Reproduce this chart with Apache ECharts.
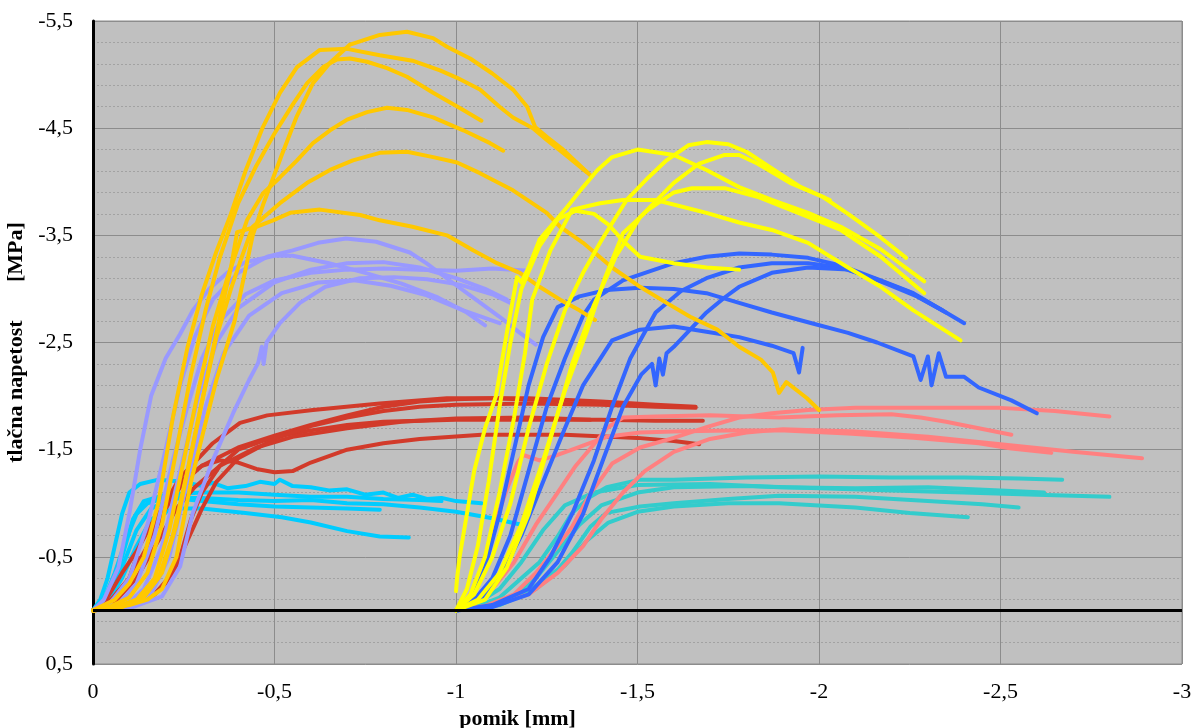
<!DOCTYPE html>
<html><head><meta charset="utf-8">
<script src="https://cdn.jsdelivr.net/npm/echarts@6/dist/echarts.min.js"></script>
<style>html,body{margin:0;padding:0;background:#fff}#c{width:1194px;height:728px}</style>
</head><body><div id="c"></div>
<script>
// axis settings (values)
const xMin = -3, xMax = 0, xStep = 0.5;
const yMin = -5.5, yMax = 0.5, yStep = 1;
const xTitle = 'pomik [mm]';
const yTitle = 'tlačna napetost       [MPa]';

// series groups: each curve is a list of [pomik, napetost]
const cyanCurves = [
  [[0,0],[-0.02,-0.1],[-0.04,-0.3],[-0.06,-0.6],[-0.08,-0.9],[-0.1,-1.1],[-0.13,-1.18],[-0.18,-1.22],[-0.25,-1.2],[-0.3,-1.16],[-0.33,-1.19],[-0.37,-1.14],[-0.42,-1.16],[-0.46,-1.2],[-0.5,-1.18],[-0.515,-1.22],[-0.55,-1.16],[-0.6,-1.15],[-0.65,-1.12],[-0.7,-1.13],[-0.75,-1.08],[-0.8,-1.1],[-0.84,-1.05],[-0.88,-1.08],[-0.92,-1.04],[-0.96,-1.05],[-1.0,-1.02],[-1.07,-1.0]],
  [[0,0],[-0.03,-0.1],[-0.06,-0.35],[-0.09,-0.65],[-0.12,-0.9],[-0.15,-1.0],[-0.2,-1.05],[-0.3,-1.05],[-0.4,-1.03],[-0.5,-1.02],[-0.6,-1.03],[-0.7,-1.0],[-0.8,-0.99],[-0.9,-0.96],[-1.0,-0.92],[-1.1,-0.86],[-1.18,-0.8]],
  [[0,0],[-0.04,-0.1],[-0.08,-0.4],[-0.12,-0.75],[-0.16,-0.95],[-0.22,-1.05],[-0.3,-1.02],[-0.4,-0.99],[-0.5,-0.97],[-0.6,-0.96],[-0.7,-0.95],[-0.79,-0.94]],
  [[0,0],[-0.04,-0.08],[-0.08,-0.3],[-0.12,-0.6],[-0.16,-0.85],[-0.22,-0.95],[-0.3,-0.95],[-0.42,-0.91],[-0.52,-0.87],[-0.6,-0.82],[-0.7,-0.74],[-0.79,-0.69],[-0.87,-0.68]],
  [[0,0],[-0.02,-0.05],[-0.05,-0.2],[-0.08,-0.5],[-0.11,-0.85],[-0.14,-1.02],[-0.2,-1.08],[-0.3,-1.1],[-0.4,-1.1],[-0.5,-1.08],[-0.6,-1.06],[-0.7,-1.06],[-0.8,-1.04],[-0.9,-1.03],[-0.96,-1.02]]
];
const redCurves = [
  [[0,0],[-0.04,-0.12],[-0.08,-0.35],[-0.12,-0.55],[-0.16,-0.8],[-0.2,-1.0],[-0.24,-1.2],[-0.3,-1.35],[-0.4,-1.52],[-0.5,-1.63],[-0.6,-1.73],[-0.7,-1.82],[-0.8,-1.9],[-0.9,-1.95],[-1.0,-1.97],[-1.1,-1.98],[-1.2,-1.98],[-1.4,-1.95],[-1.55,-1.92],[-1.66,-1.9]],
  [[0,0],[-0.05,-0.1],[-0.1,-0.3],[-0.12,-0.5],[-0.135,-0.47],[-0.15,-0.6],[-0.19,-0.95],[-0.24,-1.24],[-0.33,-1.56],[-0.405,-1.75],[-0.48,-1.82],[-0.606,-1.87],[-0.79,-1.93],[-0.975,-1.98],[-1.1,-1.98],[-1.25,-1.96],[-1.37,-1.95]],
  [[0,0],[-0.05,-0.1],[-0.1,-0.3],[-0.15,-0.6],[-0.2,-0.95],[-0.25,-1.2],[-0.3,-1.35],[-0.35,-1.4],[-0.4,-1.38],[-0.45,-1.32],[-0.5,-1.29],[-0.55,-1.3],[-0.6,-1.38],[-0.7,-1.5],[-0.8,-1.56],[-0.9,-1.6],[-1.07,-1.64],[-1.3,-1.64],[-1.5,-1.61],[-1.6,-1.58],[-1.67,-1.55]],
  [[0,0],[-0.08,-0.03],[-0.15,-0.1],[-0.2,-0.25],[-0.24,-0.5],[-0.27,-0.85],[-0.3,-1.1],[-0.35,-1.35],[-0.4,-1.5],[-0.5,-1.62],[-0.6,-1.68],[-0.7,-1.73],[-0.8,-1.76],[-1.0,-1.78],[-1.2,-1.78],[-1.4,-1.78],[-1.55,-1.77],[-1.68,-1.77]],
  [[0,0],[-0.1,-0.04],[-0.17,-0.15],[-0.22,-0.35],[-0.26,-0.65],[-0.3,-0.95],[-0.34,-1.2],[-0.4,-1.42],[-0.5,-1.6],[-0.6,-1.72],[-0.7,-1.8],[-0.8,-1.86],[-0.9,-1.9],[-1.0,-1.92],[-1.2,-1.93],[-1.4,-1.92],[-1.55,-1.9],[-1.66,-1.89]],
  [[0,0],[-0.06,-0.08],[-0.12,-0.3],[-0.18,-0.65],[-0.23,-0.95],[-0.28,-1.15],[-0.35,-1.35],[-0.45,-1.52],[-0.55,-1.62],[-0.7,-1.7],[-0.85,-1.76],[-1.0,-1.79],[-1.2,-1.8],[-1.37,-1.78]]
];
const lavenderCurves = [
  [[0,0],[-0.03,-0.1],[-0.07,-0.4],[-0.1,-0.9],[-0.13,-1.5],[-0.16,-2.0],[-0.2,-2.35],[-0.24,-2.58],[-0.275,-2.8],[-0.32,-3.0],[-0.37,-3.15],[-0.42,-3.25],[-0.5,-3.31],[-0.55,-3.31],[-0.65,-3.24],[-0.75,-3.15],[-0.85,-3.05],[-0.95,-2.92],[-1.03,-2.78],[-1.08,-2.66]],
  [[0,0],[-0.05,-0.08],[-0.1,-0.3],[-0.15,-0.8],[-0.2,-1.5],[-0.24,-2.1],[-0.28,-2.55],[-0.33,-2.9],[-0.4,-3.15],[-0.48,-3.3],[-0.55,-3.36],[-0.62,-3.43],[-0.697,-3.47],[-0.78,-3.44],[-0.873,-3.34],[-0.918,-3.24],[-0.99,-3.06],[-1.055,-2.9],[-1.12,-2.74],[-1.176,-2.59],[-1.22,-2.48]],
  [[0,0],[-0.07,-0.06],[-0.12,-0.25],[-0.17,-0.7],[-0.22,-1.4],[-0.26,-1.9],[-0.3,-2.35],[-0.35,-2.7],[-0.42,-2.95],[-0.5,-3.08],[-0.6,-3.15],[-0.7,-3.18],[-0.8,-3.19],[-0.9,-3.18],[-1.0,-3.17],[-1.1,-3.19],[-1.2,-3.17]],
  [[0,0],[-0.09,-0.05],[-0.14,-0.2],[-0.19,-0.6],[-0.24,-1.3],[-0.29,-2.0],[-0.34,-2.5],[-0.4,-2.82],[-0.5,-3.06],[-0.6,-3.18],[-0.7,-3.24],[-0.8,-3.25],[-0.9,-3.2],[-1.0,-3.1],[-1.08,-3.0],[-1.14,-2.9]],
  [[0,0],[-0.1,-0.04],[-0.16,-0.15],[-0.21,-0.5],[-0.26,-1.2],[-0.31,-1.9],[-0.36,-2.4],[-0.43,-2.75],[-0.52,-2.96],[-0.62,-3.06],[-0.72,-3.08],[-0.82,-3.03],[-0.92,-2.94],[-1.02,-2.8],[-1.12,-2.68]],
  [[0,0],[-0.1,-0.02],[-0.19,-0.13],[-0.24,-0.41],[-0.275,-0.91],[-0.33,-1.4],[-0.386,-1.84],[-0.43,-2.15],[-0.455,-2.31],[-0.465,-2.46],[-0.47,-2.3],[-0.478,-2.5],[-0.515,-2.68],[-0.57,-2.87],[-0.64,-3.02],[-0.735,-3.1],[-0.83,-3.11],[-0.92,-3.09],[-1.01,-3.04],[-1.1,-2.95],[-1.15,-2.87]]
];
const tealCurves = [
  [[-1,0],[-1.06,-0.04],[-1.12,-0.12],[-1.18,-0.3],[-1.23,-0.45],[-1.28,-0.69],[-1.32,-0.91],[-1.37,-1.06],[-1.415,-1.15],[-1.507,-1.22],[-1.6,-1.22],[-1.8,-1.24],[-2.0,-1.25],[-2.2,-1.24],[-2.4,-1.24],[-2.55,-1.23],[-2.67,-1.22]],
  [[-1,0],[-1.08,-0.04],[-1.16,-0.14],[-1.22,-0.3],[-1.28,-0.55],[-1.34,-0.8],[-1.4,-0.98],[-1.5,-1.1],[-1.6,-1.15],[-1.8,-1.16],[-2.0,-1.14],[-2.2,-1.12],[-2.4,-1.1],[-2.6,-1.08],[-2.8,-1.06]],
  [[-1,0],[-1.1,-0.05],[-1.2,-0.18],[-1.28,-0.38],[-1.32,-0.54],[-1.37,-0.78],[-1.415,-0.91],[-1.507,-0.97],[-1.6,-1.0],[-1.75,-1.04],[-1.89,-1.07],[-2.1,-1.06],[-2.3,-1.02],[-2.45,-0.99],[-2.55,-0.96]],
  [[-1,0],[-1.12,-0.05],[-1.22,-0.2],[-1.3,-0.42],[-1.36,-0.65],[-1.42,-0.82],[-1.5,-0.92],[-1.6,-0.97],[-1.75,-1.0],[-1.89,-1.0],[-2.0,-0.98],[-2.1,-0.96],[-2.25,-0.91],[-2.41,-0.87]],
  [[-1,0],[-1.05,-0.05],[-1.12,-0.2],[-1.18,-0.45],[-1.24,-0.75],[-1.3,-0.98],[-1.38,-1.1],[-1.5,-1.17],[-1.7,-1.18],[-1.89,-1.15],[-2.1,-1.14],[-2.3,-1.15],[-2.5,-1.12],[-2.62,-1.1]]
];
const pinkCurves = [
  [[-1,0],[-1.08,-0.04],[-1.16,-0.15],[-1.22,-0.35],[-1.28,-0.6],[-1.32,-0.78],[-1.37,-1.09],[-1.43,-1.37],[-1.507,-1.52],[-1.6,-1.61],[-1.69,-1.71],[-1.78,-1.8],[-1.87,-1.84],[-1.97,-1.87],[-2.1,-1.89],[-2.3,-1.89],[-2.5,-1.89],[-2.65,-1.86],[-2.8,-1.81]],
  [[-1,0],[-1.05,-0.06],[-1.1,-0.2],[-1.16,-0.45],[-1.22,-0.8],[-1.28,-1.1],[-1.33,-1.35],[-1.39,-1.59],[-1.415,-1.7],[-1.46,-1.8],[-1.55,-1.81],[-1.7,-1.82],[-1.89,-1.8],[-2.05,-1.82],[-2.2,-1.83],[-2.28,-1.8],[-2.35,-1.76],[-2.44,-1.7],[-2.53,-1.64]],
  [[-1,0],[-1.02,-0.05],[-1.05,-0.2],[-1.08,-0.5],[-1.11,-0.84],[-1.14,-1.13],[-1.17,-1.38],[-1.185,-1.45],[-1.23,-1.4],[-1.27,-1.44],[-1.32,-1.5],[-1.415,-1.62],[-1.507,-1.66],[-1.6,-1.67],[-1.75,-1.68],[-1.89,-1.68],[-2.08,-1.65],[-2.26,-1.61],[-2.44,-1.56],[-2.53,-1.51],[-2.64,-1.47]],
  [[-1,0],[-1.1,-0.05],[-1.2,-0.15],[-1.28,-0.35],[-1.35,-0.6],[-1.4,-0.85],[-1.46,-1.1],[-1.52,-1.3],[-1.6,-1.48],[-1.7,-1.6],[-1.8,-1.66],[-1.9,-1.69],[-2.1,-1.67],[-2.3,-1.62],[-2.5,-1.55],[-2.7,-1.48],[-2.89,-1.42]]
];
const blueCurves = [
  [[-1,0],[-1.05,-0.1],[-1.1,-0.3],[-1.15,-0.7],[-1.2,-1.3],[-1.25,-1.9],[-1.3,-2.35],[-1.35,-2.75],[-1.38,-2.9],[-1.46,-3.08],[-1.6,-3.24],[-1.69,-3.3],[-1.78,-3.33],[-1.87,-3.32],[-1.97,-3.29],[-2.06,-3.22],[-2.17,-3.08],[-2.26,-2.96],[-2.35,-2.78],[-2.4,-2.68]],
  [[-1,0],[-1.1,-0.05],[-1.2,-0.2],[-1.26,-0.5],[-1.32,-0.9],[-1.38,-1.4],[-1.43,-1.9],[-1.48,-2.35],[-1.55,-2.78],[-1.62,-2.98],[-1.69,-3.1],[-1.78,-3.2],[-1.87,-3.24],[-1.97,-3.24],[-2.06,-3.2],[-2.15,-3.1],[-2.25,-2.97],[-2.34,-2.8]],
  [[-1,0],[-1.1,-0.03],[-1.2,-0.15],[-1.28,-0.45],[-1.35,-0.9],[-1.41,-1.45],[-1.46,-1.9],[-1.51,-2.2],[-1.54,-2.3],[-1.55,-2.1],[-1.56,-2.35],[-1.57,-2.2],[-1.58,-2.4],[-1.6,-2.46],[-1.69,-2.78],[-1.74,-2.92],[-1.78,-3.02],[-1.87,-3.15],[-1.97,-3.2],[-2.08,-3.18],[-2.17,-3.07],[-2.27,-2.93],[-2.35,-2.78]],
  [[-1,0],[-1.04,-0.1],[-1.08,-0.4],[-1.12,-0.9],[-1.16,-1.5],[-1.2,-2.1],[-1.24,-2.55],[-1.28,-2.83],[-1.34,-2.93],[-1.415,-2.99],[-1.507,-3.01],[-1.6,-3.0],[-1.69,-2.96],[-1.78,-2.87],[-1.87,-2.78],[-1.98,-2.68],[-2.08,-2.59],[-2.16,-2.5],[-2.26,-2.37],[-2.28,-2.15],[-2.3,-2.37],[-2.31,-2.1],[-2.33,-2.4],[-2.35,-2.18],[-2.4,-2.18],[-2.44,-2.08],[-2.53,-1.96],[-2.6,-1.84]],
  [[-1,0],[-1.06,-0.08],[-1.12,-0.3],[-1.18,-0.7],[-1.24,-1.2],[-1.3,-1.7],[-1.35,-2.1],[-1.43,-2.52],[-1.507,-2.62],[-1.6,-2.65],[-1.69,-2.6],[-1.78,-2.55],[-1.87,-2.47],[-1.93,-2.4],[-1.945,-2.22],[-1.955,-2.45]]
];
const orangeCurves = [
  [[0,0],[-0.05,-0.02],[-0.1,-0.05],[-0.15,-0.1],[-0.19,-0.2],[-0.23,-0.5],[-0.27,-1.2],[-0.31,-1.75],[-0.34,-2.15],[-0.39,-2.7],[-0.44,-3.5],[-0.47,-3.8],[-0.52,-4.25],[-0.56,-4.6],[-0.606,-4.92],[-0.653,-5.11],[-0.708,-5.28],[-0.79,-5.37],[-0.865,-5.4],[-0.937,-5.34],[-0.975,-5.26],[-1.039,-5.15],[-1.1,-5.01],[-1.157,-4.86],[-1.196,-4.7],[-1.218,-4.51],[-1.25,-4.42],[-1.295,-4.3],[-1.37,-4.06]],
  [[0,0],[-0.03,-0.05],[-0.06,-0.1],[-0.1,-0.25],[-0.14,-0.5],[-0.18,-1.0],[-0.22,-1.8],[-0.26,-2.45],[-0.3,-2.95],[-0.34,-3.35],[-0.38,-3.7],[-0.42,-4.1],[-0.468,-4.51],[-0.515,-4.83],[-0.562,-5.07],[-0.625,-5.23],[-0.7,-5.24],[-0.79,-5.18],[-0.88,-5.13],[-0.956,-5.04],[-1.003,-4.97],[-1.066,-4.86],[-1.12,-4.7],[-1.157,-4.6],[-1.212,-4.5],[-1.25,-4.39],[-1.295,-4.27],[-1.36,-4.09]],
  [[0,0],[-0.05,-0.04],[-0.1,-0.12],[-0.15,-0.35],[-0.19,-0.8],[-0.23,-1.5],[-0.27,-2.2],[-0.31,-2.8],[-0.35,-3.3],[-0.4,-3.8],[-0.45,-4.15],[-0.5,-4.45],[-0.55,-4.72],[-0.59,-4.92],[-0.634,-5.07],[-0.672,-5.14],[-0.708,-5.15],[-0.755,-5.12],[-0.81,-5.06],[-0.865,-4.98],[-0.937,-4.83],[-1.02,-4.67],[-1.07,-4.57]],
  [[0,0],[-0.06,-0.03],[-0.12,-0.1],[-0.17,-0.3],[-0.21,-0.75],[-0.25,-1.4],[-0.29,-2.05],[-0.33,-2.65],[-0.37,-3.1],[-0.4,-3.4],[-0.424,-3.64],[-0.468,-3.89],[-0.515,-4.04],[-0.562,-4.2],[-0.606,-4.36],[-0.653,-4.48],[-0.7,-4.58],[-0.755,-4.65],[-0.81,-4.69],[-0.865,-4.67],[-0.937,-4.6],[-1.02,-4.48],[-1.094,-4.36],[-1.13,-4.29]],
  [[0,0],[-0.07,-0.03],[-0.13,-0.1],[-0.18,-0.3],[-0.22,-0.7],[-0.26,-1.3],[-0.3,-1.95],[-0.34,-2.55],[-0.38,-3.0],[-0.41,-3.3],[-0.44,-3.58],[-0.515,-3.8],[-0.59,-3.99],[-0.653,-4.11],[-0.716,-4.2],[-0.79,-4.27],[-0.865,-4.28],[-0.937,-4.23],[-1.003,-4.18],[-1.066,-4.08],[-1.157,-3.92],[-1.25,-3.71],[-1.287,-3.58],[-1.35,-3.43],[-1.43,-3.2],[-1.507,-3.02],[-1.58,-2.87],[-1.645,-2.74],[-1.72,-2.62],[-1.78,-2.46],[-1.84,-2.34],[-1.873,-2.22],[-1.89,-2.03],[-1.91,-2.13],[-1.967,-1.98],[-2.0,-1.87]],
  [[0,0],[-0.08,-0.03],[-0.14,-0.12],[-0.19,-0.35],[-0.23,-0.8],[-0.27,-1.45],[-0.31,-2.1],[-0.35,-2.75],[-0.38,-3.2],[-0.397,-3.53],[-0.45,-3.58],[-0.496,-3.64],[-0.543,-3.71],[-0.625,-3.74],[-0.736,-3.69],[-0.79,-3.64],[-0.88,-3.58],[-0.975,-3.5],[-1.047,-3.36],[-1.113,-3.24],[-1.176,-3.15],[-1.23,-3.02],[-1.287,-2.9],[-1.34,-2.8],[-1.383,-2.71]]
];
const yellowCurves = [
  [[-1,-0.18],[-1.003,-0.3],[-1.01,-0.5],[-1.03,-0.9],[-1.05,-1.3],[-1.08,-1.7],[-1.11,-2.0],[-1.14,-2.59],[-1.168,-3.11],[-1.18,-3.06],[-1.2,-3.2],[-1.23,-3.46],[-1.305,-3.76],[-1.35,-3.95],[-1.39,-4.11],[-1.43,-4.23],[-1.5,-4.3],[-1.6,-4.25],[-1.69,-4.11],[-1.78,-3.95],[-1.87,-3.83],[-1.97,-3.71],[-2.06,-3.58],[-2.17,-3.37],[-2.29,-3.07]],
  [[-1,0],[-1.05,-0.15],[-1.1,-0.5],[-1.15,-1.0],[-1.2,-1.7],[-1.25,-2.3],[-1.3,-2.8],[-1.35,-3.15],[-1.4,-3.45],[-1.47,-3.83],[-1.53,-4.04],[-1.58,-4.2],[-1.64,-4.34],[-1.69,-4.37],[-1.75,-4.35],[-1.8,-4.28],[-1.89,-4.08],[-1.95,-3.95],[-2.03,-3.83]],
  [[-1,0],[-1.08,-0.1],[-1.14,-0.4],[-1.2,-0.9],[-1.26,-1.6],[-1.32,-2.3],[-1.38,-2.85],[-1.44,-3.3],[-1.507,-3.67],[-1.6,-3.99],[-1.67,-4.17],[-1.74,-4.25],[-1.78,-4.25],[-1.83,-4.17],[-1.92,-3.99],[-2.01,-3.86],[-2.08,-3.7],[-2.17,-3.48],[-2.24,-3.29]],
  [[-1,0],[-1.06,-0.1],[-1.12,-0.35],[-1.18,-0.8],[-1.24,-1.4],[-1.3,-2.05],[-1.36,-2.6],[-1.41,-3.1],[-1.46,-3.52],[-1.53,-3.74],[-1.6,-3.9],[-1.65,-3.94],[-1.74,-3.94],[-1.83,-3.86],[-1.92,-3.74],[-2.06,-3.55],[-2.17,-3.3],[-2.29,-2.96]],
  [[-1,0],[-1.04,-0.15],[-1.08,-0.5],[-1.12,-1.1],[-1.16,-1.8],[-1.19,-2.4],[-1.21,-2.9],[-1.26,-3.36],[-1.32,-3.74],[-1.397,-3.8],[-1.46,-3.83],[-1.55,-3.83],[-1.69,-3.71],[-1.78,-3.62],[-1.87,-3.55],[-1.97,-3.43],[-2.08,-3.2],[-2.17,-3.02],[-2.26,-2.8],[-2.39,-2.52]],
  [[-1,0],[-1.03,-0.2],[-1.06,-0.6],[-1.09,-1.2],[-1.12,-1.9],[-1.15,-2.5],[-1.18,-3.0],[-1.23,-3.4],[-1.28,-3.65],[-1.33,-3.73],[-1.38,-3.7],[-1.42,-3.6],[-1.46,-3.45],[-1.507,-3.3],[-1.6,-3.24],[-1.69,-3.2],[-1.78,-3.18]]
];

const groups = [
  {curves: cyanCurves, color: '#00CCFF'},
  {curves: redCurves, color: '#D23A2A'},
  {curves: lavenderCurves, color: '#9999FF'},
  {curves: tealCurves, color: '#33CCCC'},
  {curves: pinkCurves, color: '#FF8080'},
  {curves: blueCurves, color: '#3366FF'},
  {curves: orangeCurves, color: '#FFC800'},
  {curves: yellowCurves, color: '#FFFF00'}
];

const fmt = v => String(v).replace('.', ',');
const font = '"Liberation Serif", "Times New Roman", serif';

const series = [];
groups.forEach(g => g.curves.forEach(c => series.push({
  type: 'line', data: c, showSymbol: false, symbol: 'none', smooth: false,
  lineStyle: {color: g.color, width: 4, cap: 'round', join: 'round'},
  itemStyle: {color: g.color}, silent: true, animation: false
})));
series[0].markLine = {
  silent: true, symbol: 'none', label: {show: false}, animation: false,
  lineStyle: {color: '#000', width: 3, type: 'solid'},
  data: [{yAxis: 0}]
};

const chart = echarts.init(document.getElementById('c'));
chart.setOption({
  animation: false,
  backgroundColor: '#fff',
  grid: {left: 93, right: 12, top: 21, bottom: 64, show: true, containLabel: false,
    outerBoundsMode: 'none',
    backgroundColor: '#C0C0C0', borderColor: '#8C8C8C', borderWidth: 1},
  xAxis: {
    type: 'value', min: xMin, max: xMax, interval: xStep, inverse: true,
    name: xTitle, nameLocation: 'middle', nameGap: 40,
    nameTextStyle: {fontFamily: font, fontWeight: 'bold', fontSize: 22, color: '#000', padding: [0, 240, 0, 0]},
    axisLine: {show: false, onZero: false}, axisTick: {show: false},
    axisLabel: {formatter: fmt, fontFamily: font, fontSize: 22, color: '#000', margin: 17},
    splitLine: {show: true, lineStyle: {color: '#8C8C8C', width: 1}}
  },
  yAxis: {
    type: 'value', min: yMin, max: yMax, interval: yStep, inverse: true,
    name: yTitle, nameLocation: 'middle', nameGap: 50, nameRotate: 90,
    nameTextStyle: {fontFamily: font, fontWeight: 'bold', fontSize: 22, color: '#000'},
    axisLine: {show: true, onZero: false, lineStyle: {color: '#000', width: 3}},
    axisTick: {show: false},
    axisLabel: {formatter: fmt, fontFamily: font, fontSize: 22, color: '#000', margin: 20},
    splitLine: {show: true, lineStyle: {color: '#8C8C8C', width: 1}},
    minorTick: {show: false, splitNumber: 5},
    minorSplitLine: {show: true, lineStyle: {color: '#A2A2A2', width: 1, type: [2, 2]}}
  },
  series: series
});
</script>
</body></html>
